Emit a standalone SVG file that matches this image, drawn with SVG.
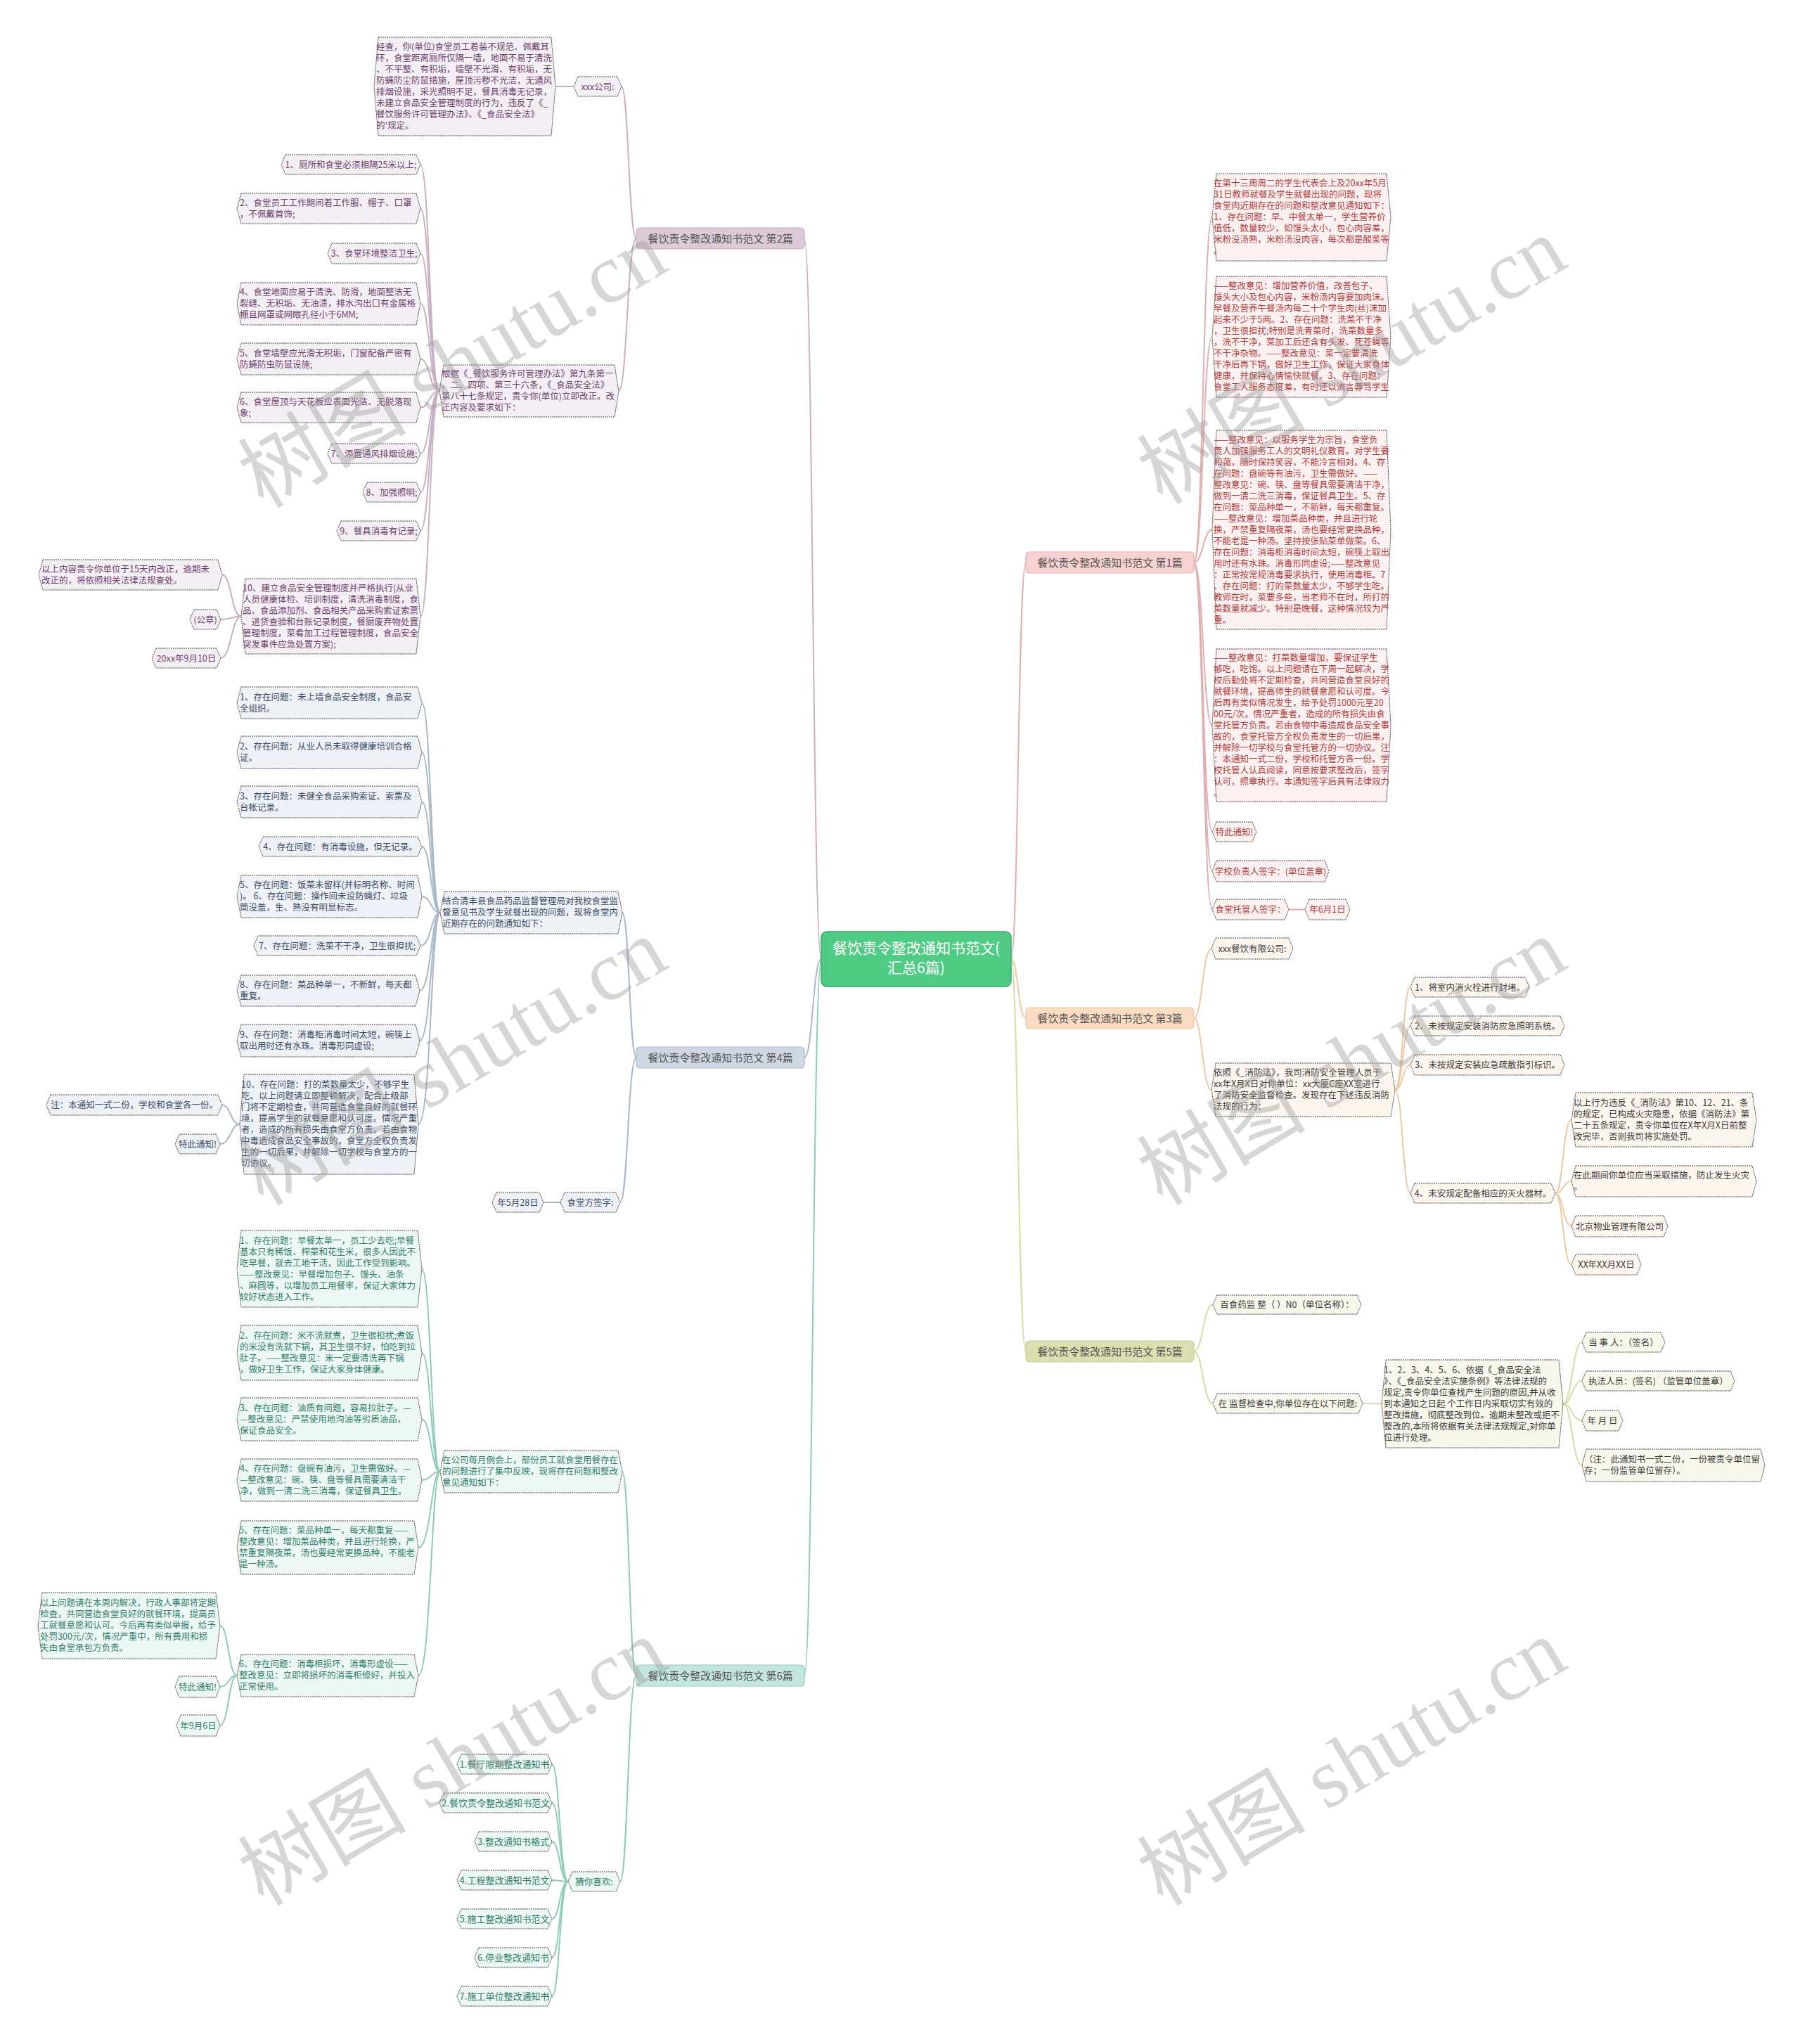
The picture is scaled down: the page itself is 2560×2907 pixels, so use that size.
<svg xmlns="http://www.w3.org/2000/svg" width="2560" height="2907" viewBox="0 0 2560 2907">
<style>
text{font-family:"Noto Sans CJK SC","Noto Sans",sans-serif;font-size:12.5px}
.nd polygon{stroke:#4a4a4a;stroke-width:1;stroke-dasharray:2 1}
.c{text-anchor:middle}
.b2 polygon{fill:#f4eff4}.b2 text{fill:#6d3f6d}
.b4 polygon{fill:#eef2f6}.b4 text{fill:#3c4c66}
.b6 polygon{fill:#edf7f4}.b6 text{fill:#2f7e6c}
.b1 polygon{fill:#fbf1f1}.b1 text{fill:#b23b3b}
.b3 polygon{fill:#fdf6ef}.b3 text{fill:#3b3b3b}
.b5 polygon{fill:#f7f7ec}.b5 text{fill:#3b3b3b}
.pill rect{stroke-width:1.2}
.pill text{font-size:15px;fill:#555;text-anchor:middle}
#conn path{fill:none;stroke-width:2}
.k2{stroke:#c9b0c2}.k4{stroke:#a9b7c7}.k6{stroke:#8dcbbc}.k1{stroke:#e3aeb0}.k3{stroke:#efc9a3}.k5{stroke:#d7dba6}
.lst text{font-size:13px}
.wm{font-family:"Liberation Serif","Noto Sans CJK SC",serif;font-size:120px;fill:#999;fill-opacity:0.4;text-anchor:middle}
</style>
<rect width="2560" height="2907" fill="#ffffff"/>

<g id="connectors">
<g id="conn">
<path class="k2" d="M1168,1364 C1156,1364 1156,339 1144,339"/>
<path class="k4" d="M1168,1364 C1156,1364 1156,1504 1144,1504"/>
<path class="k6" d="M1168,1364 C1156,1364 1156,2383 1144,2383"/>
<path class="k1" d="M1438,1364 C1448,1364 1448,800 1459,800"/>
<path class="k3" d="M1438,1364 C1448,1364 1448,1448 1459,1448"/>
<path class="k5" d="M1438,1364 C1448,1364 1448,1922 1459,1922"/>

<path class="k2" d="M905,339 C894,339 894,123 884,123"/>
<path class="k2" d="M905,339 C892,339 892,556 880,556"/>
<path class="k2" d="M816,123 L790,123"/>
<path class="k2" d="M625,556 C611,556 611,234 598,234"/>
<path class="k2" d="M625,556 C611,556 611,296.5 598,296.5"/>
<path class="k2" d="M625,556 C611,556 611,360.5 598,360.5"/>
<path class="k2" d="M625,556 C611,556 611,432 598,432"/>
<path class="k2" d="M625,556 C611,556 611,510.5 598,510.5"/>
<path class="k2" d="M625,556 C611,556 611,579.5 598,579.5"/>
<path class="k2" d="M625,556 C611,556 611,645 598,645"/>
<path class="k2" d="M625,556 C611,556 611,700 598,700"/>
<path class="k2" d="M625,556 C611,556 611,755 598,755"/>
<path class="k2" d="M625,556 C611,556 611,876.5 598,876.5"/>
<path class="k2" d="M343,876.5 C329,876.5 329,817.5 316,817.5"/>
<path class="k2" d="M343,876.5 C329,876.5 329,881 314,881"/>
<path class="k2" d="M343,876.5 C329,876.5 329,936 314,936"/>

<path class="k4" d="M905,1504 C895,1504 895,1298 885,1298"/>
<path class="k4" d="M905,1504 C893,1504 893,1710 882,1710"/>
<path class="k4" d="M626,1298 C613,1298 613,999.5 600,999.5"/>
<path class="k4" d="M626,1298 C613,1298 613,1070 600,1070"/>
<path class="k4" d="M626,1298 C613,1298 613,1140.5 600,1140.5"/>
<path class="k4" d="M626,1298 C613,1298 613,1204 600,1204"/>
<path class="k4" d="M626,1298 C613,1298 613,1275 600,1275"/>
<path class="k4" d="M626,1298 C613,1298 613,1345 598,1345"/>
<path class="k4" d="M626,1298 C613,1298 613,1409 597,1409"/>
<path class="k4" d="M626,1298 C613,1298 613,1480 597,1480"/>
<path class="k4" d="M626,1298 C613,1298 613,1599 595,1599"/>
<path class="k4" d="M341,1599 C328,1599 328,1571.5 316,1571.5"/>
<path class="k4" d="M341,1599 C328,1599 328,1627 313,1627"/>
<path class="k4" d="M797,1710 L773,1710"/>

<path class="k6" d="M905,2383 C895,2383 895,2093 885,2093"/>
<path class="k6" d="M905,2383 C893,2383 893,2676 882,2676"/>
<path class="k6" d="M626,2093 C613,2093 613,1804.5 600,1804.5"/>
<path class="k6" d="M626,2093 C613,2093 613,1924 600,1924"/>
<path class="k6" d="M626,2093 C613,2093 613,2018.5 600,2018.5"/>
<path class="k6" d="M626,2093 C613,2093 613,2105 600,2105"/>
<path class="k6" d="M626,2093 C613,2093 613,2201 595,2201"/>
<path class="k6" d="M626,2093 C613,2093 613,2383 595,2383"/>
<path class="k6" d="M337,2383 C325,2383 325,2312 313,2312"/>
<path class="k6" d="M337,2383 C325,2383 325,2399 313,2399"/>
<path class="k6" d="M337,2383 C325,2383 325,2454 313,2454"/>
<path class="k6" d="M808,2676 C796,2676 796,2509 785,2509"/>
<path class="k6" d="M808,2676 C796,2676 796,2564 785,2564"/>
<path class="k6" d="M808,2676 C796,2676 796,2619 785,2619"/>
<path class="k6" d="M808,2676 C796,2676 796,2674 785,2674"/>
<path class="k6" d="M808,2676 C796,2676 796,2729 785,2729"/>
<path class="k6" d="M808,2676 C796,2676 796,2784 785,2784"/>
<path class="k6" d="M808,2676 C796,2676 796,2839 785,2839"/>

<path class="k1" d="M1698,800 C1711,800 1711,309 1724,309"/>
<path class="k1" d="M1698,800 C1711,800 1711,479 1724,479"/>
<path class="k1" d="M1698,800 C1711,800 1711,753.5 1724,753.5"/>
<path class="k1" d="M1698,800 C1711,800 1711,1031.5 1724,1031.5"/>
<path class="k1" d="M1698,800 C1711,800 1711,1183 1724,1183"/>
<path class="k1" d="M1698,800 C1711,800 1711,1239 1724,1239"/>
<path class="k1" d="M1698,800 C1711,800 1711,1293.5 1724,1293.5"/>
<path class="k1" d="M1833,1293.5 L1856,1293.5"/>

<path class="k3" d="M1698,1448 C1710,1448 1710,1349 1723,1349"/>
<path class="k3" d="M1698,1448 C1710,1448 1710,1550 1723,1550"/>
<path class="k3" d="M1984,1550 C1995,1550 1995,1404 2006,1404"/>
<path class="k3" d="M1984,1550 C1995,1550 1995,1459 2006,1459"/>
<path class="k3" d="M1984,1550 C1995,1550 1995,1514.5 2006,1514.5"/>
<path class="k3" d="M1984,1550 C1995,1550 1995,1697 2006,1697"/>
<path class="k3" d="M2212,1697 C2223,1697 2223,1592.5 2235,1592.5"/>
<path class="k3" d="M2212,1697 C2223,1697 2223,1680 2235,1680"/>
<path class="k3" d="M2212,1697 C2223,1697 2223,1744 2235,1744"/>
<path class="k3" d="M2212,1697 C2223,1697 2223,1798.5 2235,1798.5"/>

<path class="k5" d="M1698,1922 C1711,1922 1711,1855.5 1725,1855.5"/>
<path class="k5" d="M1698,1922 C1711,1922 1711,1996 1725,1996"/>
<path class="k5" d="M1938,1996 L1965,1996.5"/>
<path class="k5" d="M2223,1996.5 C2236,1996.5 2236,1909 2250,1909"/>
<path class="k5" d="M2223,1996.5 C2236,1996.5 2236,1964 2250,1964"/>
<path class="k5" d="M2223,1996.5 C2236,1996.5 2236,2020.5 2250,2020.5"/>
<path class="k5" d="M2223,1996.5 C2236,1996.5 2236,2084 2250,2084"/>
</g>
</g>

<!-- center -->
<g id="center">
<rect x="1168" y="1325" width="270" height="78" rx="8" fill="#4fcb84" stroke="#35a968" stroke-width="1.5"/>
<text x="1303" y="1356" class="c" style="font-size:21px;fill:#ffffff">餐饮责令整改通知书范文(</text>
<text x="1303" y="1384" class="c" style="font-size:21px;fill:#ffffff">汇总6篇)</text>
</g>

<!-- level 1 pills -->
<g id="br2" class="pill"><rect x="905" y="324" width="239" height="30" rx="5" fill="#dccbd6" stroke="#c9b0c2"/><text x="1024.5" y="344.5">餐饮责令整改通知书范文 第2篇</text></g>
<g id="br4" class="pill"><rect x="905" y="1489" width="239" height="30" rx="5" fill="#cfd8e2" stroke="#a9b7c7"/><text x="1024.5" y="1509.5">餐饮责令整改通知书范文 第4篇</text></g>
<g id="br6" class="pill"><rect x="905" y="2368" width="239" height="30" rx="5" fill="#c4e6de" stroke="#8dcbbc"/><text x="1024.5" y="2388.5">餐饮责令整改通知书范文 第6篇</text></g>
<g id="br1" class="pill"><rect x="1459" y="785" width="239" height="30" rx="5" fill="#f6d2d2" stroke="#e3aeb0"/><text x="1578.5" y="805.5">餐饮责令整改通知书范文 第1篇</text></g>
<g id="br3" class="pill"><rect x="1459" y="1433" width="239" height="30" rx="5" fill="#f9dcc1" stroke="#efc9a3"/><text x="1578.5" y="1453.5">餐饮责令整改通知书范文 第3篇</text></g>
<g id="br5" class="pill"><rect x="1459" y="1907" width="239" height="30" rx="5" fill="#dcdfb0" stroke="#c9cd94"/><text x="1578.5" y="1927.5">餐饮责令整改通知书范文 第5篇</text></g>

<!-- branch 2 -->
<g class="nd b2">
<g id="n2a"><polygon points="822,109 878,109 884,123 878,137 822,137 816,123"/><text x="850" y="127.5" class="c">xxx公司:</text></g>
<g id="n2a1"><polygon points="538,53 784,53 790,123 784,193 538,193 532,123"/><text x="535" y="71"><tspan x="535">经查，你(单位)食堂员工着装不规范、佩戴耳</tspan><tspan x="535" dy="16">环，食堂距离厕所仅隔一墙，地面不易于清洗</tspan><tspan x="535" dy="16">、不平整、有积垢，墙壁不光滑、有积垢，无</tspan><tspan x="535" dy="16">防蝇防尘防鼠措施，屋顶污秽不光洁，无通风</tspan><tspan x="535" dy="16">排烟设施，采光照明不足，餐具消毒无记录，</tspan><tspan x="535" dy="16">未建立食品安全管理制度的行为，违反了《_</tspan><tspan x="535" dy="16">餐饮服务许可管理办法》、《_食品安全法》</tspan><tspan x="535" dy="16">的'规定。</tspan></text></g>
<g id="n2b"><polygon points="631,519 874,519 880,556 874,593 631,593 625,556"/><text y="536"><tspan x="628">根据《_餐饮服务许可管理办法》第九条第一</tspan><tspan x="628" dy="16">、二、四项、第三十六条，《_食品安全法》</tspan><tspan x="628" dy="16">第八十七条规定，责令你(单位)立即改正。改</tspan><tspan x="628" dy="16">正内容及要求如下：</tspan></text></g>
<g id="i1"><polygon points="406,220 592,220 598,234 592,248 406,248 400,234"/><text x="499" y="238.5" class="c">1、厕所和食堂必须相隔25米以上;</text></g>
<g id="i2"><polygon points="343,275 592,275 598,296.5 592,318 343,318 337,296.5"/><text y="292.5"><tspan x="341">2、食堂员工工作期间着工作服、帽子、口罩</tspan><tspan x="341" dy="16">，不佩戴首饰;</tspan></text></g>
<g id="i3"><polygon points="472,346 592,346 598,360.5 592,375 472,375 466,360.5"/><text x="532" y="365" class="c">3、食堂环境整洁卫生;</text></g>
<g id="i4"><polygon points="343,402 592,402 598,432 592,462 343,462 337,432"/><text y="420"><tspan x="341">4、食堂地面应易于清洗、防滑，地面整洁无</tspan><tspan x="341" dy="16">裂缝、无积垢、无油渍，排水沟出口有金属格</tspan><tspan x="341" dy="16">栅且网罩或网眼孔径小于6MM;</tspan></text></g>
<g id="i5"><polygon points="343,488 592,488 598,510.5 592,533 343,533 337,510.5"/><text y="506.5"><tspan x="341">5、食堂墙壁应光滑无积垢，门窗配备严密有</tspan><tspan x="341" dy="16">防蝇防虫防鼠设施;</tspan></text></g>
<g id="i6"><polygon points="343,558 592,558 598,579.5 592,601 343,601 337,579.5"/><text y="575.5"><tspan x="341">6、食堂屋顶与天花板应表面光洁、无脱落现</tspan><tspan x="341" dy="16">象;</tspan></text></g>
<g id="i7"><polygon points="472,631 592,631 598,645 592,659 472,659 466,645"/><text x="532" y="649.5" class="c">7、添置通风排烟设施;</text></g>
<g id="i8"><polygon points="522,686 592,686 598,700 592,714 522,714 516,700"/><text x="557" y="704.5" class="c">8、加强照明;</text></g>
<g id="i9"><polygon points="485,741 592,741 598,755 592,769 485,769 479,755"/><text x="538.5" y="759.5" class="c">9、餐具消毒有记录;</text></g>
<g id="i10"><polygon points="349,823 592,823 598,876.5 592,930 349,930 343,876.5"/><text y="840.5"><tspan x="345">10、建立食品安全管理制度并严格执行(从业</tspan><tspan x="345" dy="16">人员健康体检、培训制度，清洗消毒制度，食</tspan><tspan x="345" dy="16">品、食品添加剂、食品相关产品采购索证索票</tspan><tspan x="345" dy="16">、进货查验和台账记录制度，餐厨废弃物处置</tspan><tspan x="345" dy="16">管理制度，菜肴加工过程管理制度，食品安全</tspan><tspan x="345" dy="16">突发事件应急处置方案);</tspan></text></g>
<g id="n10a"><polygon points="61,796 310,796 316,817.5 310,839 61,839 55,817.5"/><text y="813.5"><tspan x="59">以上内容责令你单位于15天内改正，逾期未</tspan><tspan x="59" dy="16">改正的，将依照相关法律法规查处。</tspan></text></g>
<g id="n10b"><polygon points="276,867 308,867 314,881 308,895 276,895 270,881"/><text x="292" y="885.5" class="c">(公章)</text></g>
<g id="n10c"><polygon points="222,922 308,922 314,936 308,950 222,950 216,936"/><text x="265" y="940.5" class="c">20xx年9月10日</text></g>
</g>

<!-- branch 4 -->
<g class="nd b4">
<g id="n4a"><polygon points="632,1268 879,1268 885,1298 879,1328 632,1328 626,1298"/><text y="1286"><tspan x="629">结合清丰县食品药品监督管理局对我校食堂监</tspan><tspan x="629" dy="16">督意见书及学生就餐出现的问题，现将食堂内</tspan><tspan x="629" dy="16">近期存在的问题通知如下：</tspan></text></g>
<g id="j1"><polygon points="343,977 594,977 600,999.5 594,1022 343,1022 337,999.5"/><text y="995.5"><tspan x="341">1、存在问题：未上墙食品安全制度，食品安</tspan><tspan x="341" dy="16">全组织。</tspan></text></g>
<g id="j2"><polygon points="343,1047 594,1047 600,1070 594,1093 343,1093 337,1070"/><text y="1066"><tspan x="341">2、存在问题：从业人员未取得健康培训合格</tspan><tspan x="341" dy="16">证。</tspan></text></g>
<g id="j3"><polygon points="343,1118 594,1118 600,1140.5 594,1163 343,1163 337,1140.5"/><text y="1136.5"><tspan x="341">3、存在问题：未健全食品采购索证、索票及</tspan><tspan x="341" dy="16">台帐记录。</tspan></text></g>
<g id="j4"><polygon points="374,1190 594,1190 600,1204 594,1218 374,1218 368,1204"/><text x="484" y="1208.5" class="c">4、存在问题：有消毒设施，但无记录。</text></g>
<g id="j5"><polygon points="343,1245 594,1245 600,1275 594,1305 343,1305 337,1275"/><text y="1263"><tspan x="341">5、存在问题：饭菜未留样(并标明名称、时间</tspan><tspan x="341" dy="16">)。 6、存在问题：操作间未设防蝇灯、垃圾</tspan><tspan x="341" dy="16">筒没盖，生、熟没有明显标志。</tspan></text></g>
<g id="j7"><polygon points="367,1331 592,1331 598,1345 592,1359 367,1359 361,1345"/><text x="479.5" y="1349.5" class="c">7、存在问题：洗菜不干净，卫生很担扰;</text></g>
<g id="j8"><polygon points="343,1387 591,1387 597,1409 591,1431 343,1431 337,1409"/><text y="1405"><tspan x="341">8、存在问题：菜品种单一，不新鲜，每天都</tspan><tspan x="341" dy="16">重复。</tspan></text></g>
<g id="j9"><polygon points="343,1457 591,1457 597,1480 591,1503 343,1503 337,1480"/><text y="1476"><tspan x="341">9、存在问题：消毒柜消毒时间太短，碗筷上</tspan><tspan x="341" dy="16">取出用时还有水珠。消毒形同虚设;</tspan></text></g>
<g id="j10"><polygon points="347,1528 589,1528 595,1599 589,1670 347,1670 341,1599"/><text y="1547"><tspan x="343">10、存在问题：打的菜数量太少，不够学生</tspan><tspan x="343" dy="16">吃。以上问题请立即整顿解决，配合上级部</tspan><tspan x="343" dy="16">门将不定期检查，共同营造食堂良好的就餐环</tspan><tspan x="343" dy="16">境，提高学生的就餐意愿和认可度。情况严重</tspan><tspan x="343" dy="16">者，造成的所有损失由食堂方负责。若由食物</tspan><tspan x="343" dy="16">中毒造成食品安全事故的，食堂方全权负责发</tspan><tspan x="343" dy="16">生的一切后果，并解除一切学校与食堂方的一</tspan><tspan x="343" dy="16">切协议。</tspan></text></g>
<g id="j10a"><polygon points="72,1557 310,1557 316,1571.5 310,1586 72,1586 66,1571.5"/><text x="191" y="1576" class="c">注：本通知一式二份，学校和食堂各一份。</text></g>
<g id="j10b"><polygon points="255,1613 307,1613 313,1627 307,1641 255,1641 249,1627"/><text x="281" y="1631.5" class="c">特此通知!</text></g>
<g id="n4b"><polygon points="803,1696 876,1696 882,1710 876,1724 803,1724 797,1710"/><text x="839.5" y="1714.5" class="c">食堂方签字:</text></g>
<g id="n4b1"><polygon points="706,1696 767,1696 773,1710 767,1724 706,1724 700,1710"/><text x="736.5" y="1714.5" class="c">年5月28日</text></g>
</g>

<!-- branch 6 -->
<g class="nd b6">
<g id="n6a"><polygon points="632,2063 879,2063 885,2093 879,2123 632,2123 626,2093"/><text y="2081"><tspan x="629">在公司每月例会上，部份员工就食堂用餐存在</tspan><tspan x="629" dy="16">的问题进行了集中反映，现将存在问题和整改</tspan><tspan x="629" dy="16">意见通知如下：</tspan></text></g>
<g id="k1"><polygon points="343,1750 594,1750 600,1804.5 594,1859 343,1859 337,1804.5"/><text y="1768.5"><tspan x="341">1、存在问题：早餐太单一，员工少去吃;早餐</tspan><tspan x="341" dy="16">基本只有稀饭、榨菜和花生米，很多人因此不</tspan><tspan x="341" dy="16">吃早餐，就去工地干活，因此工作受到影响。</tspan><tspan x="341" dy="16">——整改意见：早餐增加包子、馒头、油条</tspan><tspan x="341" dy="16">、麻圆等，以增加员工用餐率，保证大家体力</tspan><tspan x="341" dy="16">较好状态进入工作。</tspan></text></g>
<g id="k2"><polygon points="343,1885 594,1885 600,1924 594,1963 343,1963 337,1924"/><text y="1904"><tspan x="341">2、存在问题：米不洗就煮，卫生很担扰;煮饭</tspan><tspan x="341" dy="16">的米没有洗就下锅，其卫生很不好，怕吃到拉</tspan><tspan x="341" dy="16">肚子。——整改意见：米一定要清洗再下锅</tspan><tspan x="341" dy="16">，做好卫生工作，保证大家身体健康。</tspan></text></g>
<g id="k3"><polygon points="343,1988 594,1988 600,2018.5 594,2049 343,2049 337,2018.5"/><text y="2006.5"><tspan x="341">3、存在问题：油质有问题，容易拉肚子。—</tspan><tspan x="341" dy="16">—整改意见：严禁使用地沟油等劣质油品，</tspan><tspan x="341" dy="16">保证食品安全。</tspan></text></g>
<g id="k4"><polygon points="343,2075 594,2075 600,2105 594,2135 343,2135 337,2105"/><text y="2093"><tspan x="341">4、存在问题：盘碗有油污，卫生需做好。—</tspan><tspan x="341" dy="16">—整改意见：碗、筷、盘等餐具需要清洁干</tspan><tspan x="341" dy="16">净，做到一清二洗三消毒，保证餐具卫生。</tspan></text></g>
<g id="k5"><polygon points="343,2163 589,2163 595,2201 589,2239 343,2239 337,2201"/><text y="2181"><tspan x="340">5、存在问题：菜品种单一，每天都重复——</tspan><tspan x="340" dy="16">整改意见：增加菜品种类，并且进行轮换，严</tspan><tspan x="340" dy="16">禁重复隔夜菜，汤也要经常更换品种，不能老</tspan><tspan x="340" dy="16">是一种汤。</tspan></text></g>
<g id="k6"><polygon points="343,2353 589,2353 595,2383 589,2413 343,2413 337,2383"/><text y="2371"><tspan x="340">6、存在问题：消毒柜损坏，消毒形虚设——</tspan><tspan x="340" dy="16">整改意见：立即将损坏的消毒柜修好，并投入</tspan><tspan x="340" dy="16">正常使用。</tspan></text></g>
<g id="k6a"><polygon points="60,2265 307,2265 313,2312 307,2359 60,2359 54,2312"/><text y="2284"><tspan x="57">以上问题请在本周内解决，行政人事部将定期</tspan><tspan x="57" dy="16">检查，共同营造食堂良好的就餐环境，提高员</tspan><tspan x="57" dy="16">工就餐意愿和认可。今后再有类似举报，给予</tspan><tspan x="57" dy="16">处罚300元/次，情况严重中，所有费用和损</tspan><tspan x="57" dy="16">失由食堂承包方负责。</tspan></text></g>
<g id="k6b"><polygon points="255,2384 307,2384 313,2399 307,2414 255,2414 249,2399"/><text x="281" y="2403.5" class="c">特此通知!</text></g>
<g id="k6c"><polygon points="257,2439 307,2439 313,2454 307,2469 257,2469 251,2454"/><text x="282" y="2458.5" class="c">年9月6日</text></g>
<g id="n6b"><polygon points="814,2662 876,2662 882,2676 876,2690 814,2690 808,2676"/><text x="845" y="2680.5" class="c">猜你喜欢:</text></g>
<g class="lst">
<g id="l1"><polygon points="656,2495 779,2495 785,2509 779,2523 656,2523 650,2509"/><text x="717.5" y="2513.5" class="c">1.餐厅限期整改通知书</text></g>
<g id="l2"><polygon points="631,2550 779,2550 785,2564 779,2578 631,2578 625,2564"/><text x="705" y="2568.5" class="c">2.餐饮责令整改通知书范文</text></g>
<g id="l3"><polygon points="681,2605 779,2605 785,2619 779,2633 681,2633 675,2619"/><text x="730" y="2623.5" class="c">3.整改通知书格式</text></g>
<g id="l4"><polygon points="656,2660 779,2660 785,2674 779,2688 656,2688 650,2674"/><text x="717.5" y="2678.5" class="c">4.工程整改通知书范文</text></g>
<g id="l5"><polygon points="656,2715 779,2715 785,2729 779,2743 656,2743 650,2729"/><text x="717.5" y="2733.5" class="c">5.施工整改通知书范文</text></g>
<g id="l6"><polygon points="681,2770 779,2770 785,2784 779,2798 681,2798 675,2784"/><text x="730" y="2788.5" class="c">6.停业整改通知书</text></g>
<g id="l7"><polygon points="656,2825 779,2825 785,2839 779,2853 656,2853 650,2839"/><text x="717.5" y="2843.5" class="c">7.施工单位整改通知书</text></g>
</g>
</g>

<!-- branch 1 -->
<g class="nd b1">
<g id="m1"><polygon points="1730,247 1972,247 1978,309 1972,371 1730,371 1724,309"/><text y="265"><tspan x="1726">在第十三周周二的学生代表会上及20xx年5月</tspan><tspan x="1726" dy="16">31日教师就餐及学生就餐出现的问题，现将</tspan><tspan x="1726" dy="16">食堂肉近期存在的问题和整改意见通知如下：</tspan><tspan x="1726" dy="16">1、存在问题：早、中餐太单一，学生营养价</tspan><tspan x="1726" dy="16">值低，数量较少，如馒头太小，包心肉容差，</tspan><tspan x="1726" dy="16">米粉没汤熟，米粉汤没肉容，每次都是酸菜等</tspan><tspan x="1726" dy="16">。</tspan></text></g>
<g id="m2"><polygon points="1730,393 1972,393 1978,479 1972,565 1730,565 1724,479"/><text y="411"><tspan x="1726">——整改意见：增加营养价值，改善包子、</tspan><tspan x="1726" dy="16">馒头大小及包心内容，米粉汤内容要加肉沫。</tspan><tspan x="1726" dy="16">早餐及营养午餐汤内每二十个学生肉(丝)沫加</tspan><tspan x="1726" dy="16">起来不少于5两。2、存在问题：洗菜不干净</tspan><tspan x="1726" dy="16">，卫生很担扰;特别是洗青菜时，洗菜数量多</tspan><tspan x="1726" dy="16">，洗不干净，菜加工后还含有头发、死苍蝇等</tspan><tspan x="1726" dy="16">不干净杂物。——整改意见：菜一定要清洗</tspan><tspan x="1726" dy="16">干净后再下锅，做好卫生工作，保证大家身体</tspan><tspan x="1726" dy="16">健康，并保持心情愉快就餐。3、存在问题：</tspan><tspan x="1726" dy="16">食堂工人服务态度差，有时还以流言辱骂学生</tspan></text></g>
<g id="m3"><polygon points="1730,612 1972,612 1978,753.5 1972,895 1730,895 1724,753.5"/><text y="629.5"><tspan x="1726">——整改意见：以服务学生为宗旨，食堂负</tspan><tspan x="1726" dy="16">责人加强服务工人的文明礼仪教育。对学生要</tspan><tspan x="1726" dy="16">和蔼，随时保持笑容，不能冷言相对。4、存</tspan><tspan x="1726" dy="16">在问题：盘碗等有油污，卫生需做好。——</tspan><tspan x="1726" dy="16">整改意见：碗、筷、盘等餐具需要清洁干净，</tspan><tspan x="1726" dy="16">做到一清二洗三消毒，保证餐具卫生。5、存</tspan><tspan x="1726" dy="16">在问题：菜品种单一，不新鲜，每天都重复。</tspan><tspan x="1726" dy="16">——整改意见：增加菜品种类，并且进行轮</tspan><tspan x="1726" dy="16">换，严禁重复隔夜菜，汤也要经常更换品种，</tspan><tspan x="1726" dy="16">不能老是一种汤。坚持按张贴菜单做菜。6、</tspan><tspan x="1726" dy="16">存在问题：消毒柜消毒时间太短，碗筷上取出</tspan><tspan x="1726" dy="16">用时还有水珠。消毒形同虚设;——整改意见</tspan><tspan x="1726" dy="16">：正常按常规消毒要求执行，使用消毒柜。7</tspan><tspan x="1726" dy="16">、存在问题：打的菜数量太少，不够学生吃。</tspan><tspan x="1726" dy="16">教师在时，菜要多些，当老师不在时，所打的</tspan><tspan x="1726" dy="16">菜数量就减少。特别是晚餐，这种情况较为严</tspan><tspan x="1726" dy="16">重。</tspan></text></g>
<g id="m4"><polygon points="1730,923 1972,923 1978,1031.5 1972,1140 1730,1140 1724,1031.5"/><text y="939.5"><tspan x="1726">——整改意见：打菜数量增加，要保证学生</tspan><tspan x="1726" dy="16">够吃，吃饱。以上问题请在下周一起解决，学</tspan><tspan x="1726" dy="16">校后勤处将不定期检查，共同营造食堂良好的</tspan><tspan x="1726" dy="16">就餐环境，提高师生的就餐意愿和认可度。今</tspan><tspan x="1726" dy="16">后再有类似情况发生，给予处罚1000元至20</tspan><tspan x="1726" dy="16">00元/次，情况严重者，造成的所有损失由食</tspan><tspan x="1726" dy="16">堂托管方负责。若由食物中毒造成食品安全事</tspan><tspan x="1726" dy="16">故的，食堂托管方全权负责发生的一切后果，</tspan><tspan x="1726" dy="16">并解除一切学校与食堂托管方的一切协议。注</tspan><tspan x="1726" dy="16">：本通知一式二份，学校和托管方各一份。学</tspan><tspan x="1726" dy="16">校托管人认真阅读，同意按要求整改后，签字</tspan><tspan x="1726" dy="16">认可，照章执行。本通知签字后具有法律效力</tspan><tspan x="1726" dy="16">。</tspan></text></g>
<g id="m5"><polygon points="1730,1169 1781,1169 1787,1183 1781,1197 1730,1197 1724,1183"/><text x="1755.5" y="1187.5" class="c">特此通知!</text></g>
<g id="m6"><polygon points="1730,1224 1884,1224 1890,1239 1884,1254 1730,1254 1724,1239"/><text x="1807" y="1243.5" class="c">学校负责人签字：(单位盖章)</text></g>
<g id="m7"><polygon points="1730,1279 1827,1279 1833,1293.5 1827,1308 1730,1308 1724,1293.5"/><text x="1778.5" y="1298" class="c">食堂托管人签字：</text></g>
<g id="m7a"><polygon points="1862,1279 1914,1279 1920,1293.5 1914,1308 1862,1308 1856,1293.5"/><text x="1888" y="1298" class="c">年6月1日</text></g>
</g>

<!-- branch 3 -->
<g class="nd b3">
<g id="p1"><polygon points="1729,1334 1833,1334 1839,1349 1833,1364 1729,1364 1723,1349"/><text x="1781" y="1353.5" class="c">xxx餐饮有限公司:</text></g>
<g id="p2"><polygon points="1729,1512 1978,1512 1984,1550 1978,1588 1729,1588 1723,1550"/><text y="1530"><tspan x="1726">依照《_消防法》，我司消防安全管理人员于</tspan><tspan x="1726" dy="16">xx年X月X日对你单位：xx大厦C座XX室进行</tspan><tspan x="1726" dy="16">了消防安全监督检查。发现存在下述违反消防</tspan><tspan x="1726" dy="16">法规的行为：</tspan></text></g>
<g id="p21"><polygon points="2012,1390 2169,1390 2175,1404 2169,1418 2012,1418 2006,1404"/><text x="2090.5" y="1408.5" class="c">1、将室内消火栓进行封堵。</text></g>
<g id="p22"><polygon points="2012,1445 2219,1445 2225,1459 2219,1473 2012,1473 2006,1459"/><text x="2115.5" y="1463.5" class="c">2、未按规定安装消防应急照明系统。</text></g>
<g id="p23"><polygon points="2012,1500 2219,1500 2225,1514.5 2219,1529 2012,1529 2006,1514.5"/><text x="2115.5" y="1519" class="c">3、未按规定安装应急疏散指引标识。</text></g>
<g id="p24"><polygon points="2012,1683 2206,1683 2212,1697 2206,1711 2012,1711 2006,1697"/><text x="2109" y="1701.5" class="c">4、未安规定配备相应的灭火器材。</text></g>
<g id="p241"><polygon points="2241,1554 2492,1554 2498,1592.5 2492,1631 2241,1631 2235,1592.5"/><text y="1572.5"><tspan x="2238">以上行为违反《_消防法》第10、12、21、条</tspan><tspan x="2238" dy="16">的规定，已构成火灾隐患，依据《消防法》第</tspan><tspan x="2238" dy="16">二十五条规定，责令你单位在X年X月X日前整</tspan><tspan x="2238" dy="16">改完毕，否则我司将实施处罚。</tspan></text></g>
<g id="p242"><polygon points="2241,1658 2492,1658 2498,1680 2492,1702 2241,1702 2235,1680"/><text y="1676"><tspan x="2238">在此期间你单位应当采取措施，防止发生火灾</tspan><tspan x="2238" dy="16">。</tspan></text></g>
<g id="p243"><polygon points="2241,1729 2366,1729 2372,1744 2366,1759 2241,1759 2235,1744"/><text x="2303.5" y="1748.5" class="c">北京物业管理有限公司</text></g>
<g id="p244"><polygon points="2241,1784 2328,1784 2334,1798.5 2328,1813 2241,1813 2235,1798.5"/><text x="2284.5" y="1803" class="c">XX年XX月XX日</text></g>
</g>

<!-- branch 5 -->
<g class="nd b5">
<g id="q1"><polygon points="1731,1842 1930,1842 1936,1855.5 1930,1869 1731,1869 1725,1855.5"/><text x="1830.5" y="1860" class="c">百食药监 整（ ）N0（单位名称）：</text></g>
<g id="q2"><polygon points="1731,1982 1932,1982 1938,1996 1932,2010 1731,2010 1725,1996"/><text x="1831.5" y="2000.5" class="c">在 监督检查中,你单位存在以下问题:</text></g>
<g id="q21"><polygon points="1971,1934 2217,1934 2223,1996.5 2217,2059 1971,2059 1965,1996.5"/><text y="1952.5"><tspan x="1968">1、2、3、4、5、6、依据《_食品安全法</tspan><tspan x="1968" dy="16">》、《_食品安全法实施条例》等法律法规的</tspan><tspan x="1968" dy="16">规定,责令你单位查找产生问题的原因,并从收</tspan><tspan x="1968" dy="16">到本通知之日起 个工作日内采取切实有效的</tspan><tspan x="1968" dy="16">整改措施，彻底整改到位。逾期未整改或拒不</tspan><tspan x="1968" dy="16">整改的,本所将依据有关法律法规规定,对你单</tspan><tspan x="1968" dy="16">位进行处理。</tspan></text></g>
<g id="q211"><polygon points="2256,1895 2362,1895 2368,1909 2362,1923 2256,1923 2250,1909"/><text x="2309" y="1913.5" class="c">当 事 人：（签名）</text></g>
<g id="q212"><polygon points="2256,1950 2461,1950 2467,1964 2461,1978 2256,1978 2250,1964"/><text x="2358.5" y="1968.5" class="c">执法人员：(签名) （监管单位盖章）</text></g>
<g id="q213"><polygon points="2256,2006 2302,2006 2308,2020.5 2302,2035 2256,2035 2250,2020.5"/><text x="2279" y="2025" class="c">年 月 日</text></g>
<g id="q214"><polygon points="2256,2061 2504,2061 2510,2084 2504,2107 2256,2107 2250,2084"/><text y="2080"><tspan x="2253">（注：此通知书一式二份，一份被责令单位留</tspan><tspan x="2253" dy="16">存；一份监管单位留存）。</tspan></text></g>
</g>

<!-- watermarks -->
<g id="watermarks">
<text class="wm" transform="translate(644,519) rotate(-30.5)" y="40">树图 shutu.cn</text>
<text class="wm" transform="translate(1923,514) rotate(-30.5)" y="40">树图 shutu.cn</text>
<text class="wm" transform="translate(644,1511) rotate(-30.5)" y="40">树图 shutu.cn</text>
<text class="wm" transform="translate(1923,1511) rotate(-30.5)" y="40">树图 shutu.cn</text>
<text class="wm" transform="translate(644,2507) rotate(-30.5)" y="40">树图 shutu.cn</text>
<text class="wm" transform="translate(1923,2507) rotate(-30.5)" y="40">树图 shutu.cn</text>
</g>
</svg>
